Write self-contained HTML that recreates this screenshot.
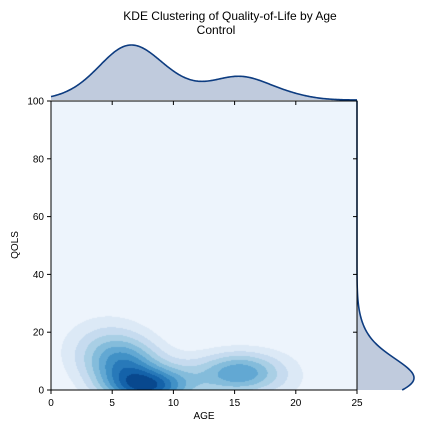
<!DOCTYPE html>
<html><head><meta charset="utf-8"><style>
html,body{margin:0;padding:0;background:#fff;}
#wrap{position:relative;width:432px;height:432px;font-family:"Liberation Sans",sans-serif;}
#cv{position:absolute;left:51px;top:101px;}
svg{position:absolute;left:0;top:0;}
</style></head><body>
<div id="wrap">
<canvas id="cv" width="306" height="289"></canvas>
<svg id="sv" width="432" height="432"></svg>
</div>
<script>
// Density components (age, qols, spread, weight)
const compAge = [7.8, 6.0, 15.5, 11.0, 4.5, 19.0];
const compQols = [1.0, 9.0, 6.0, 4.0, 14.0, 4.0];
const compSdAge = [2.3, 2.0, 2.2, 2.8, 2.5, 2.0];
const compSdQols = [4.5, 6.0, 5.0, 6.0, 8.0, 7.0];
const compWeight = [1.0, 0.6, 0.72, 0.25, 0.35, 0.12];
const xTicks = [0, 5, 10, 15, 20, 25];
const yTicks = [0, 20, 40, 60, 80, 100];
const levelColors = ["#edf4fc","#dce9f6","#c6dbef","#a9cfe5","#84bcdb","#62a8d3","#4191c6","#2879b9","#1462a9","#08488e"];

const X0=51,X1=357,Y0=390,Y1=101;
const sx=v=>X0+(v-0)/(25-0)*(X1-X0);
const sy=v=>Y0-(v-0)/(100-0)*(Y0-Y1);
const ix=px=>(px-X0)/(X1-X0)*25;
const iy=py=>(Y0-py)/(Y0-Y1)*100;
const g=(v,m,s)=>Math.exp(-0.5*((v-m)/s)**2);
function dens(a,q){let d=0;for(let i=0;i<compAge.length;i++)d+=compWeight[i]*g(a,compAge[i],compSdAge[i])*g(q,compQols[i],compSdQols[i]);return d;}
function margA(a){let d=0;for(let i=0;i<compAge.length;i++)d+=compWeight[i]*compSdQols[i]*g(a,compAge[i],compSdAge[i]);return d;}
function margQ(q){let d=0;for(let i=0;i<compAge.length;i++)d+=compWeight[i]*compSdAge[i]*g(q,compQols[i],compSdQols[i]);return d;}

const cv=document.getElementById('cv'),ctx=cv.getContext('2d');
const W=cv.width,H=cv.height;
let vals=[],mx=0;
for(let y=0;y<H;y++)for(let x=0;x<W;x++){const d=dens(ix(X0+x+0.5),iy(Y1+y+0.5));vals.push(d);if(d>mx)mx=d;}
const img=ctx.createImageData(W,H);
const rgb=levelColors.map(c=>[parseInt(c.slice(1,3),16),parseInt(c.slice(3,5),16),parseInt(c.slice(5,7),16)]);
for(let i=0;i<vals.length;i++){let k=Math.min(9,Math.floor(vals[i]/mx*10));const c=rgb[k];img.data[i*4]=c[0];img.data[i*4+1]=c[1];img.data[i*4+2]=c[2];img.data[i*4+3]=255;}
ctx.putImageData(img,0,0);

const NS="http://www.w3.org/2000/svg";
const sv=document.getElementById('sv');
function el(t,at,txt){const e=document.createElementNS(NS,t);for(const k in at)e.setAttribute(k,at[k]);if(txt!=null)e.textContent=txt;sv.appendChild(e);return e;}

let mA=0;for(let a=-2;a<=27;a+=0.1)mA=Math.max(mA,margA(a));
let pts=[];for(let px=X0;px<=X1;px++){pts.push([px,100-55*margA(ix(px))/mA]);}
let d="M"+X0+",100 "+pts.map(p=>"L"+p[0]+","+p[1].toFixed(2)).join(" ")+" L"+X1+",100Z";
let e=el('path',{d:d,fill:"#c0cbdd",stroke:"none"});

e=el('path',{d:"M"+pts.map(p=>p[0]+","+p[1].toFixed(2)).join(" L"),fill:"none",stroke:"#0d3c80","stroke-width":1.6});


let mQ=0;for(let q=0;q<=100;q+=0.1)mQ=Math.max(mQ,margQ(q));
let rp=[];for(let py=Y1;py<=Y0;py++){rp.push([357+57*margQ(iy(py))/mQ,py]);}
d="M357,"+Y1+" "+rp.map(p=>"L"+p[0].toFixed(2)+","+p[1]).join(" ")+" L357,"+Y0+"Z";
e=el('path',{d:d,fill:"#c0cbdd",stroke:"none"});

e=el('path',{d:"M"+rp.map(p=>p[0].toFixed(2)+","+p[1]).join(" L"),fill:"none",stroke:"#0d3c80","stroke-width":1.6});


e=el('rect',{x:X0,y:Y1,width:X1-X0,height:Y0-Y1,fill:"none",stroke:"#000","stroke-width":1});

xTicks.forEach(v=>{
 let t=el('line',{x1:sx(v),x2:sx(v),y1:Y0,y2:Y0+4,stroke:"#000"});
 
 t=el('line',{x1:sx(v),x2:sx(v),y1:Y1,y2:Y1+4,stroke:"#000"});
 
 t=el('text',{x:sx(v),y:Y0+16,"font-size":10,"text-anchor":"middle"},String(v));
 
});
yTicks.forEach(v=>{
 let t=el('line',{x1:X0-4,x2:X0,y1:sy(v),y2:sy(v),stroke:"#000"});
 
 t=el('line',{x1:X1-4,x2:X1,y1:sy(v),y2:sy(v),stroke:"#000"});
 
 t=el('text',{x:X0-7,y:sy(v)+3.5,"font-size":10,"text-anchor":"end"},String(v));
 
});
e=el('text',{x:204,y:419,"font-size":10,"text-anchor":"middle"},"AGE");

e=el('text',{x:18,y:245,"font-size":10,"text-anchor":"middle",transform:"rotate(-90 18 245)"},"QOLS");

e=el('text',{x:230,y:20,"font-size":12,"text-anchor":"middle"},"KDE Clustering of Quality-of-Life by Age");

e=el('text',{x:216,y:34,"font-size":12,"text-anchor":"middle"},"Control");

</script>
</body></html>
